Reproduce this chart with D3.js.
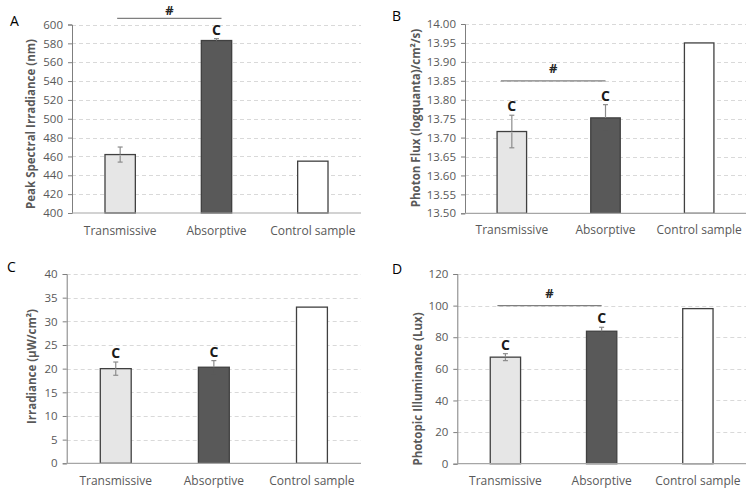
<!DOCTYPE html>
<html>
<head>
<meta charset="utf-8">
<script src="https://cdn.jsdelivr.net/npm/d3@7"></script>
<style>
  html, body { margin: 0; padding: 0; background: #fff; }
  svg { display: block; font-family: "Open Sans", "Liberation Sans", sans-serif; }
</style>
</head>
<body>
<svg id="chart" width="750" height="491"></svg>
<script>
// ---------- DATA ----------
const categories = ["Transmissive", "Absorptive", "Control sample"];

const peakValues = [462, 583, 455];
const peakErrors = [8, 2, 0];
const peakTicks = [400, 420, 440, 460, 480, 500, 520, 540, 560, 580, 600];

const fluxValues = [13.716, 13.752, 13.95];
const fluxErrors = [0.043, 0.035, 0];
const fluxTicks = [13.50, 13.55, 13.60, 13.65, 13.70, 13.75, 13.80, 13.85, 13.90, 13.95, 14.00];

const irrValues = [20.0, 20.3, 33.0];
const irrErrors = [1.4, 1.4, 0];
const irrTicks = [0, 5, 10, 15, 20, 25, 30, 35, 40];

const luxValues = [67.4, 83.8, 98.1];
const luxErrors = [2.2, 2.5, 0];
const luxTicks = [0, 20, 40, 60, 80, 100, 120];

const sigLabelsA = ["", "C", ""];
const sigLabelsB = ["C", "C", ""];
const sigLabelsC = ["C", "C", ""];
const sigLabelsD = ["C", "C", ""];

const bracketA = 606.6;   // "#" bracket level (data units), null if none
const bracketB = 13.85;
const bracketC = null;
const bracketD = 100;

// ---------- STYLE / LAYOUT ----------
const barFills = ["#e6e6e6", "#595959", "#ffffff"];
const errColor = "#8c8c8c";
const textGray = "#595959";

const panels = [
  { letter: "A", lx: 10, ly: 26, left: 72, right: 361, top: 24.5, bottom: 213, domain: [400, 600],
    values: peakValues, errors: peakErrors, ticks: peakTicks, fmt: d3.format("d"),
    title: "Peak Spectral Irradiance (nm)", tx: 32, ty: 124, sig: sigLabelsA, bracket: bracketA,
    bx0: -3, bx1: 5, hashDy: -3, catY: 235 },
  { letter: "B", lx: 392, ly: 21, left: 465, right: 746, top: 24, bottom: 213.3, domain: [13.5, 14.0],
    values: fluxValues, errors: fluxErrors, ticks: fluxTicks, fmt: d3.format(".2f"),
    title: "Photon Flux (logquanta)/cm\u00B2/s)", tx: 417, ty: 118, sig: sigLabelsB, bracket: bracketB,
    bx0: -11, bx1: 0, hashDy: -8, catY: 234 },
  { letter: "C", lx: 7, ly: 272, left: 66.7, right: 361, top: 274, bottom: 463.3, domain: [0, 40],
    values: irrValues, errors: irrErrors, ticks: irrTicks, fmt: d3.format("d"),
    title: "Irradiance (\u00B5W/cm\u00B2)", tx: 33, ty: 366.5, sig: sigLabelsC, bracket: bracketC,
    bx0: 0, bx1: 0, hashDy: -8, catY: 485 },
  { letter: "D", lx: 392, ly: 274, left: 457.3, right: 746, top: 274, bottom: 463.7, domain: [0, 120],
    values: luxValues, errors: luxErrors, ticks: luxTicks, fmt: d3.format("d"),
    title: "Photopic Illuminance (Lux)", tx: 419, ty: 389, sig: sigLabelsD, bracket: bracketD,
    bx0: -8, bx1: 0, hashDy: -8, catY: 485 }
];

const svg = d3.select("#chart");

panels.forEach(p => {
  const g = svg.append("g");
  const x = d3.scaleBand().domain(categories).range([p.left, p.right])
    .paddingInner(0.685).paddingOuter(0.3425);
  const y = d3.scaleLinear().domain(p.domain).range([p.bottom, p.top]);

  // gridlines
  g.append("g").selectAll("line").data(p.ticks.slice(1)).join("line")
    .attr("x1", p.left).attr("x2", p.right)
    .attr("y1", d => Math.round(y(d)) + 0.5).attr("y2", d => Math.round(y(d)) + 0.5)
    .attr("stroke", "#d9d9d9").attr("stroke-width", 1).attr("stroke-dasharray", "4,3");

  // y axis
  const yAxis = d3.axisLeft(y).tickValues(p.ticks).tickFormat(p.fmt).tickSize(4).tickPadding(5);
  const ya = g.append("g").attr("transform", `translate(${p.left},0)`).call(yAxis);
  ya.select(".domain").attr("stroke", "#7f7f7f");
  ya.selectAll(".tick line").attr("stroke", "#7f7f7f");
  ya.selectAll(".tick text").attr("fill", textGray).attr("font-size", 11.5)
    .attr("font-family", "'Open Sans', sans-serif");

  // bars
  g.append("g").selectAll("rect").data(p.values).join("rect")
    .attr("x", (d, i) => x(categories[i]))
    .attr("width", x.bandwidth())
    .attr("y", d => y(d))
    .attr("height", d => y(p.domain[0]) - y(d))
    .attr("fill", (d, i) => barFills[i])
    .attr("stroke", "#404040").attr("stroke-width", 1.3);

  // error bars (lower half blends into the dark bar, as in the original)
  const eg = g.append("g").attr("stroke-width", 1.2);
  p.values.forEach((v, i) => {
    const e = p.errors[i];
    if (!e) return;
    const cx = x(categories[i]) + x.bandwidth() / 2;
    const lowColor = i === 1 ? barFills[1] : errColor;
    eg.append("line").attr("stroke", errColor).attr("x1", cx).attr("x2", cx).attr("y1", y(v + e)).attr("y2", y(v));
    eg.append("line").attr("stroke", errColor).attr("x1", cx - 2.5).attr("x2", cx + 2.5).attr("y1", y(v + e)).attr("y2", y(v + e));
    eg.append("line").attr("stroke", lowColor).attr("x1", cx).attr("x2", cx).attr("y1", y(v) + 1).attr("y2", y(v - e));
    eg.append("line").attr("stroke", lowColor).attr("x1", cx - 2.5).attr("x2", cx + 2.5).attr("y1", y(v - e)).attr("y2", y(v - e));
  });

  // x axis line
  g.append("line").attr("x1", p.left).attr("x2", p.right)
    .attr("y1", y(p.domain[0])).attr("y2", y(p.domain[0]))
    .attr("stroke", "#a6a6a6").attr("stroke-width", 1.2);

  // category labels
  g.append("g").selectAll("text").data(categories).join("text")
    .attr("x", d => x(d) + x.bandwidth() / 2).attr("y", p.catY)
    .attr("text-anchor", "middle").attr("fill", textGray).attr("font-size", 12)
    .text(d => d);

  // significance "C" labels
  g.append("g").selectAll("text").data(p.sig).join("text")
    .attr("x", (d, i) => x(categories[i]) + x.bandwidth() / 2)
    .attr("y", (d, i) => y(p.values[i] + p.errors[i]) - 4)
    .attr("text-anchor", "middle").attr("fill", "#1a1a1a").attr("font-size", 14)
    .attr("font-weight", "bold")
    .text(d => d);

  // "#" bracket
  if (p.bracket !== null) {
    const x0 = x(categories[0]) + x.bandwidth() / 2 + p.bx0;
    const x1 = x(categories[1]) + x.bandwidth() / 2 + p.bx1;
    const by = y(p.bracket);
    g.append("line").attr("x1", x0).attr("x2", x1).attr("y1", by).attr("y2", by)
      .attr("stroke", "#7f7f7f").attr("stroke-width", 1.3);
    g.append("text").attr("x", (x0 + x1) / 2).attr("y", by + p.hashDy)
      .attr("text-anchor", "middle").attr("fill", "#262626").attr("font-size", 13)
      .attr("font-weight", "bold").text("#");
  }

  // y title
  g.append("text").attr("transform", `translate(${p.tx},${p.ty}) rotate(-90)`)
    .attr("text-anchor", "middle").attr("dominant-baseline", "middle")
    .attr("fill", textGray).attr("font-size", 11.5).attr("font-weight", "bold")
    .text(p.title);

  // panel letter
  svg.append("text").attr("x", p.lx).attr("y", p.ly).attr("fill", "#000")
    .attr("font-size", 14).text(p.letter);
});
</script>
</body>
</html>
